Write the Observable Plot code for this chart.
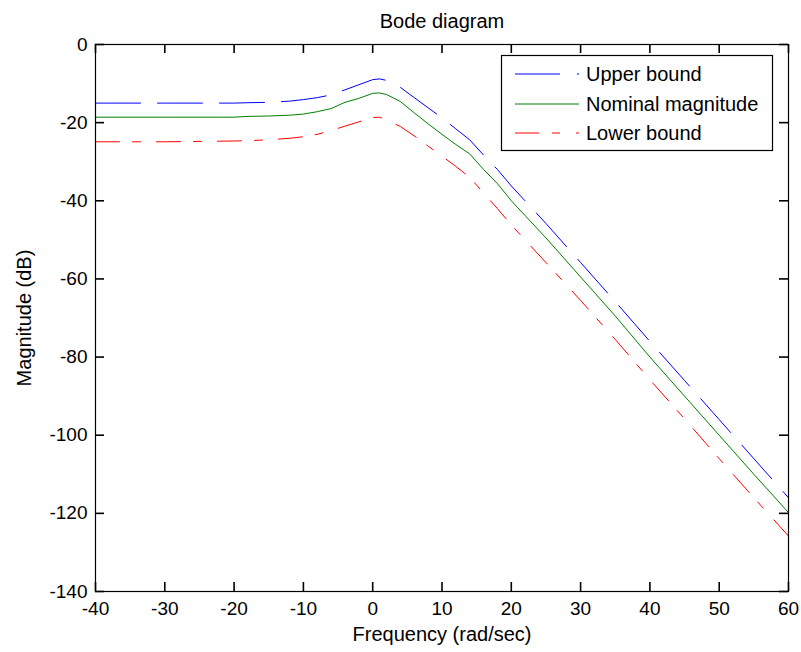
<!DOCTYPE html>
<html><head><meta charset="utf-8">
<script src="https://cdn.jsdelivr.net/npm/d3@7"></script>
<script src="https://cdn.jsdelivr.net/npm/@observablehq/plot@0.6"></script>
<style>body{margin:0;background:#fff} svg{display:block}</style>
</head><body><div id="chart"></div>
<script>
const frequency  = [-40, -30, -20, -18, -15, -12, -10, -8, -6, -4, -2, 0, 1, 2, 4, 6, 8, 10, 12, 14, 16, 18, 20, 25, 30, 35, 40, 45, 50, 55, 60];
const upperBound = [-15.0, -15.0, -15.0, -14.9, -14.8, -14.5, -14.1, -13.6, -12.9, -11.6, -10.3, -9.0, -8.8, -9.2, -11.0, -13.6, -16.2, -18.8, -21.6, -24.4, -28.3, -32.0, -36.2, -45.8, -55.8, -65.8, -76.0, -86.0, -96.0, -106.0, -116.0];
const nominal    = [-18.6, -18.6, -18.6, -18.4, -18.3, -18.1, -17.8, -17.2, -16.4, -14.8, -13.8, -12.5, -12.4, -12.8, -14.6, -17.5, -20.3, -23.0, -25.6, -28.0, -32.0, -35.6, -40.0, -49.5, -59.5, -69.5, -80.0, -90.0, -100.0, -110.0, -119.8];
const lowerBound = [-24.9, -24.9, -24.7, -24.6, -24.4, -24.0, -23.6, -23.0, -22.0, -20.9, -19.8, -18.7, -18.6, -19.3, -21.0, -23.4, -26.0, -28.6, -31.2, -34.0, -38.0, -42.0, -46.2, -55.8, -65.5, -75.5, -85.8, -95.8, -106.0, -116.0, -125.8];
const seriesNames  = ["Upper bound", "Nominal magnitude", "Lower bound"];
const seriesColors = ["#0000ff", "#008000", "#ff0000"];
const seriesDashes = ["45,17", null, "24,13,8,16"];
const xTicks = [-40, -30, -20, -10, 0, 10, 20, 30, 40, 50, 60];
const yTicks = [0, -20, -40, -60, -80, -100, -120, -140];
const titleText = "Bode diagram";
const xLabel = "Frequency (rad/sec)";
const yLabel = "Magnitude (dB)";

const seriesValues = [upperBound, nominal, lowerBound];
const tables = seriesValues.map(vals => frequency.map((f, i) => ({f, m: vals[i]})));
const font = "Liberation Sans, Arial, Helvetica, sans-serif";

const W = 801, H = 652, ML = 95, MR = 13, MT = 44, MB = 61;
const TK = 9; // inward tick length (px)
const frameW = W - ML - MR, frameH = H - MT - MB;

const lines = tables.map((t, i) => Plot.line(t, {
  x: "f", y: "m", stroke: seriesColors[i], strokeWidth: 1,
  strokeDasharray: seriesDashes[i] || undefined
}));
const tickStyle = {stroke: "#000000", strokeWidth: 1.6, strokeOpacity: 1};

const svg = Plot.plot({
  width: W, height: H,
  marginLeft: ML, marginRight: MR, marginTop: MT, marginBottom: MB,
  style: {fontFamily: font, fontSize: "19px", background: "white", color: "black"},
  x: {domain: [-40, 60]},
  y: {domain: [-140, 0]},
  marks: [
    ...lines,
    // inward ticks on all four sides (rules clipped to TK px by insets)
    Plot.ruleX(xTicks, {x: d => d, insetTop: frameH - TK, ...tickStyle}),
    Plot.ruleX(xTicks, {x: d => d, insetBottom: frameH - TK, ...tickStyle}),
    Plot.ruleY(yTicks, {y: d => d, insetRight: frameW - TK, ...tickStyle}),
    Plot.ruleY(yTicks, {y: d => d, insetLeft: frameW - TK, ...tickStyle}),
    Plot.frame({stroke: "black", strokeWidth: 1.2}),
    // tick labels
    Plot.axisX(xTicks, {anchor: "bottom", tickSize: 0, tickPadding: 10, tickFormat: d => String(d), label: null, fontSize: 19}),
    Plot.axisY(yTicks, {anchor: "left", tickSize: 0, tickPadding: 8, tickFormat: d => String(d), label: null, fontSize: 19}),
    Plot.text([titleText], {frameAnchor: "top", lineAnchor: "middle", textAnchor: "middle", dy: -23, fontSize: 20, fill: "black"}),
    Plot.text([xLabel], {frameAnchor: "bottom", lineAnchor: "middle", textAnchor: "middle", dy: 43, fontSize: 20, fill: "black"}),
    Plot.text([yLabel], {frameAnchor: "left", lineAnchor: "middle", textAnchor: "middle", dx: -71, rotate: -90, fontSize: 20, fill: "black"})
  ]
});

// legend box
const lg = d3.select(svg).append("g").attr("font-family", font).attr("font-size", 20).attr("text-anchor", "start");
lg.append("rect").attr("x", 501.5).attr("y", 55.5).attr("width", 271).attr("height", 95)
  .attr("fill", "white").attr("stroke", "black").attr("stroke-width", 1.2);
const rowY = [74, 104, 133];
seriesNames.forEach((name, i) => {
  lg.append("line").attr("x1", 515).attr("x2", 579).attr("y1", rowY[i]).attr("y2", rowY[i])
    .attr("stroke", seriesColors[i]).attr("stroke-width", 1)
    .attr("stroke-dasharray", seriesDashes[i]);
  lg.append("text").attr("x", 586).attr("y", rowY[i]).attr("dy", "0.35em")
    .attr("text-anchor", "start").attr("fill", "black").text(name);
});

document.getElementById("chart").appendChild(svg);
</script>
</body></html>
